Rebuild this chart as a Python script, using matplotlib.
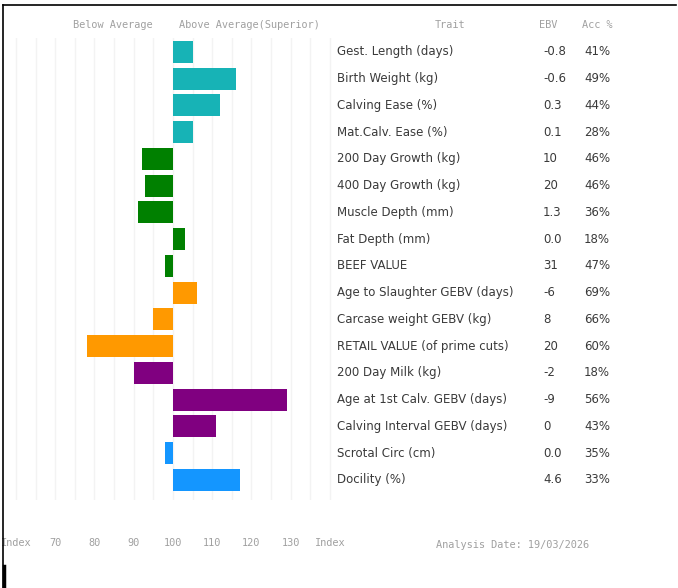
import numpy as np
import matplotlib.pyplot as plt
from matplotlib.transforms import blended_transform_factory
from matplotlib.lines import Line2D

# =========================
# DATA
# =========================
traits = [
    "Gest. Length (days)", "Birth Weight (kg)", "Calving Ease (%)",
    "Mat.Calv. Ease (%)", "200 Day Growth (kg)", "400 Day Growth (kg)",
    "Muscle Depth (mm)", "Fat Depth (mm)", "BEEF VALUE",
    "Age to Slaughter GEBV (days)", "Carcase weight GEBV (kg)",
    "RETAIL VALUE (of prime cuts)", "200 Day Milk (kg)",
    "Age at 1st Calv. GEBV (days)", "Calving Interval GEBV (days)",
    "Scrotal Circ (cm)", "Docility (%)",
]
ebv = ["-0.8", "-0.6", "0.3", "0.1", "10", "20", "1.3", "0.0", "31",
       "-6", "8", "20", "-2", "-9", "0", "0.0", "4.6"]
acc = ["41%", "49%", "44%", "28%", "46%", "46%", "36%", "18%", "47%",
       "69%", "66%", "60%", "18%", "56%", "43%", "35%", "33%"]
index_vals = [105, 116, 112, 105, 92, 93, 91, 103, 98,
              106, 95, 78, 90, 129, 111, 98, 117]
groups = ["calving"] * 4 + ["growth"] * 5 + ["carcase"] * 3 + ["fert"] * 3 + ["other"] * 2
group_colors = {"calving": "#17b3b6", "growth": "#008000", "carcase": "#ff9900",
                "fert": "#800080", "other": "#1496ff"}

tick_vals = [60, 70, 80, 90, 100, 110, 120, 130, 140]
tick_labels = ["Index", "70", "80", "90", "100", "110", "120", "130", "Index"]

W, H = 678, 588
fig = plt.figure(figsize=(W / 100, H / 100), dpi=100)


def fx(px):
    return px / W


def fy(py):
    return 1 - py / H


# =========================
# BAR AXES
# =========================
ax = fig.add_axes([fx(10), fy(500), fx(322), 462 / H])
ax.set_xlim(58.5, 140.5)
ax.set_ylim(16.75, -0.52)
for g in np.arange(60, 141, 5):
    ax.axvline(g, color="#f3f3f3", lw=1, zorder=0)

y = np.arange(len(traits))
cols = [group_colors[g] for g in groups]
ax.barh(y, np.array(index_vals) - 100, left=100, height=0.82,
        color=cols, zorder=2)
ax.axis("off")

# =========================
# TABLE TEXT
# =========================
tr = blended_transform_factory(fig.transFigure, ax.transData)
body = dict(family="DejaVu Sans", fontsize=8.5, color="#3a3a3a", va="center", ha="left")
for i in range(len(traits)):
    ax.text(fx(337), i, traits[i], transform=tr, **body)
    ax.text(fx(543), i, ebv[i], transform=tr, **body)
    ax.text(fx(584), i, acc[i], transform=tr, **body)

hdr = dict(family="DejaVu Sans Mono", fontsize=7.4, color="#a0a0a0", va="center")
fig.text(fx(113), fy(25), "Below Average", ha="center", **hdr)
fig.text(fx(249), fy(25), "Above Average(Superior)", ha="center", **hdr)
fig.text(fx(450), fy(25), "Trait", ha="center", **hdr)
fig.text(fx(548), fy(25), "EBV", ha="center", **hdr)
fig.text(fx(597), fy(25), "Acc %", ha="center", **hdr)

# bottom index ticks
trb = blended_transform_factory(ax.transData, fig.transFigure)
for v, lab in zip(tick_vals, tick_labels):
    ax.text(v, fy(543), lab, transform=trb, ha="center", clip_on=False, **hdr)
fig.text(fx(513), fy(545), "Analysis Date: 19/03/2026", ha="center", **hdr)

# frame lines
fig.add_artist(Line2D([fx(3), fx(676)], [fy(5), fy(5)], color="black", lw=1.2))
fig.add_artist(Line2D([fx(3), fx(3)], [fy(5), fy(588)], color="black", lw=1.2))
fig.add_artist(Line2D([fx(4), fx(4)], [fy(566), fy(588)], color="black", lw=2.5))

fig.savefig("out.png", dpi=100)
